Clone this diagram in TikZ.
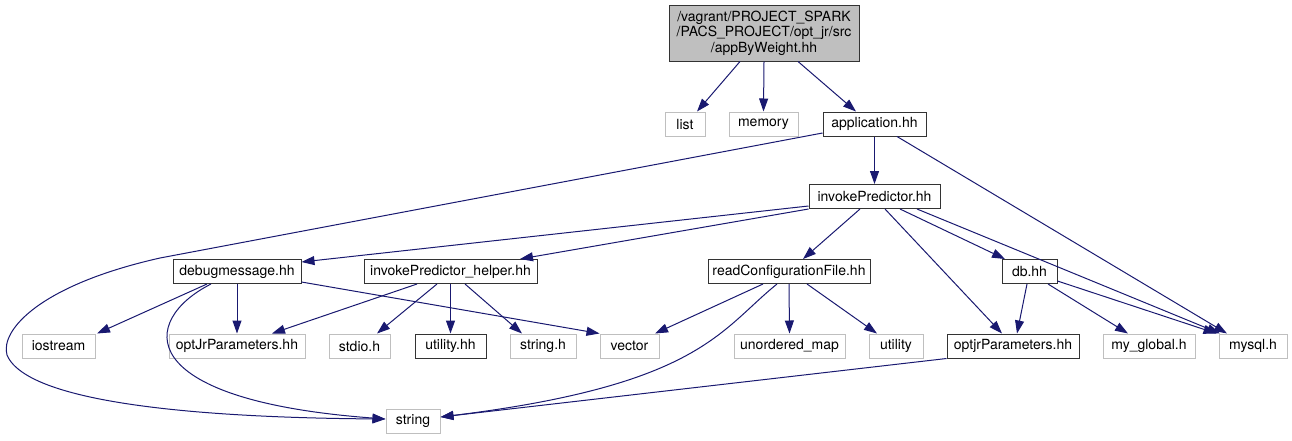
\documentclass[tikz,border=0pt]{standalone}
\usepackage{fontspec}
\setmainfont{TeX Gyre Heros}
\usetikzlibrary{arrows.meta, calc}
\definecolor{edgeblue}{HTML}{191970}
\definecolor{greyline}{HTML}{BFBFBF}
\tikzset{
    file/.style={rectangle, draw=black!80, fill=white, line width=1pt, minimum height=24pt, inner sep=0pt, font=\fontsize{14}{15.5}\selectfont},
    extfile/.style={file, draw=greyline},
    rootfile/.style={file, fill=greyline, align=center},
    dep/.style={-{Triangle[length=13pt, width=9pt]}, line width=1pt, draw=edgeblue}
}
\begin{document}
\begin{tikzpicture}[x=1pt, y=-1pt]
    \useasboundingbox (0,0) rectangle (1292,440);
    \node[rootfile, minimum width=190pt, minimum height=56pt] (root) at (764,33) {/vagrant/PROJECT\_SPARK\\/PACS\_PROJECT/opt\_jr/src\\/appByWeight.hh};
    \node[extfile, minimum width=40pt] (list) at (685,124) {list};
    \node[extfile, minimum width=69pt] (memory) at (763.5,124) {memory};
    \node[file, minimum width=103pt] (app) at (874.5,124) {application.hh};
    \node[file, minimum width=131pt] (inv) at (874.5,196.5) {invokePredictor.hh};
    \node[file, minimum width=128pt] (debug) at (237,271.5) {debugmessage.hh};
    \node[file, minimum width=173pt] (helper) at (450.5,271.5) {invokePredictor\_helper.hh};
    \node[file, minimum width=162pt] (readconf) at (789,271.5) {readConfigurationFile.hh};
    \node[file, minimum width=55pt] (db) at (1029.5,271.5) {db.hh};
    \node[extfile, minimum width=73pt] (iostream) at (58.5,346) {iostream};
    \node[extfile, minimum width=136pt] (optjrext) at (237,346) {optJrParameters.hh};
    \node[extfile, minimum width=61pt] (stdio) at (359.5,346) {stdio.h};
    \node[file, minimum width=71pt] (utilityhh) at (450.5,346) {utility.hh};
    \node[extfile, minimum width=66pt] (stringh) at (543,346) {string.h};
    \node[extfile, minimum width=59pt] (vector) at (629.5,346) {vector};
    \node[extfile, minimum width=111pt] (unordered) at (789.5,346) {unordered\_map};
    \node[extfile, minimum width=54pt] (utility) at (896,346) {utility};
    \node[file, minimum width=132pt] (optjr) at (1013,346) {optjrParameters.hh};
    \node[extfile, minimum width=92pt] (myglobal) at (1149,346) {my\_global.h};
    \node[extfile, minimum width=68pt] (mysql) at (1253,346) {mysql.h};
    \node[extfile, minimum width=54pt] (string) at (413,421.5) {string};
    \foreach \a/\da/\b/\db in {root/-24/list/12, root/0/memory/0, root/34/app/-18.5, app/0/inv/0, app/22.5/mysql/-26,
        inv/-14.5/readconf/14, inv/10.5/optjr/-11, inv/25.5/db/-24.5, inv/42.5/mysql/-33,
        debug/-30/iostream/38.5, debug/0/optjrext/0, helper/-33.5/optjrext/35, helper/-13.5/stdio/17.5,
        helper/0/utilityhh/0, helper/14.5/stringh/-21, readconf/-26/vector/25.5, readconf/0/unordered/0,
        readconf/18/utility/-19, db/-2.5/optjr/4, db/18.5/myglobal/-21}
        \draw[dep] ([xshift=\da pt]\a.south) -- ([xshift=\db pt]\b.north);
    \draw[dep] ([yshift=-9.5pt]inv.west) -- ([yshift=9.5pt]debug.east);
    \draw[dep] (inv.south west) -- ([xshift=69.5pt]helper.north);
    \draw[dep] ([yshift=-10.5pt]debug.east) -- (vector.north west);
    \draw[dep] ([yshift=-9.5pt]db.east) -- ([xshift=-2pt]mysql.north west);
    \draw[dep] ([yshift=-9pt]app.west) -- (160,258) .. controls (40,285) and (0,330) .. (7,355)
        .. controls (30,410) and (250,418) .. ([yshift=2.5pt]string.west);
    \draw[dep] ([xshift=-26pt]debug.south) .. controls (140,320) and (130,400) .. ([yshift=2.5pt]string.west);
    \draw[dep] ([xshift=-12pt]readconf.south) .. controls (720,330) and (700,385) .. ([yshift=4.5pt]string.east);
    \draw[dep] (optjr.south west) -- ([yshift=4.5pt]string.east);
\end{tikzpicture}
\end{document}
